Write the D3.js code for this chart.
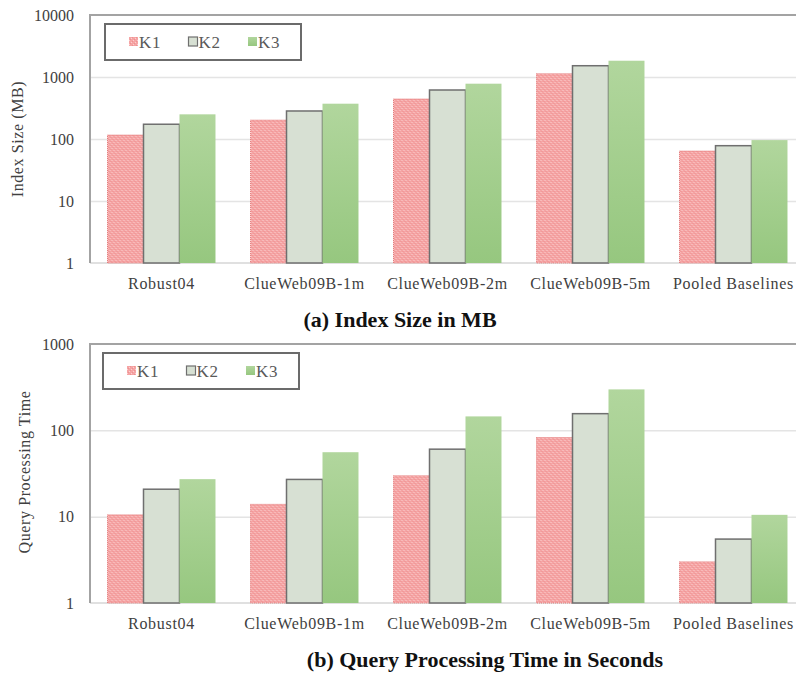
<!DOCTYPE html>
<html>
<head>
<meta charset="utf-8">
<script src="https://cdn.jsdelivr.net/npm/d3@7"></script>
<style>
  html, body { margin: 0; padding: 0; background: #ffffff; }
  svg { display: block; }
  text { font-family: "Liberation Serif", "Times New Roman", serif; }
</style>
</head>
<body>
<svg id="chart" width="796" height="677"></svg>
<script>
// Collections shown on the x axis of both panels
const categories = ["Robust04", "ClueWeb09B-1m", "ClueWeb09B-2m", "ClueWeb09B-5m", "Pooled Baselines"];
const seriesNames = ["K1", "K2", "K3"];

// (a) index size, MB
const indexK1 = [116, 202, 442, 1130, 64];
const indexK2 = [173, 283, 617, 1520, 78];
const indexK3 = [250, 371, 780, 1830, 96];
const indexTicks = [1, 10, 100, 1000, 10000];

// (b) query processing time, seconds
const timeK1 = [10.5, 13.9, 29.8, 82.6, 3.0];
const timeK2 = [20.8, 27, 60.5, 156, 5.5];
const timeK3 = [27.2, 55.8, 145, 298, 10.5];
const timeTicks = [1, 10, 100, 1000];

const svg = d3.select("#chart");
const defs = svg.append("defs");

// dotted pink fill for K1
const pat = defs.append("pattern")
  .attr("id", "k1dots").attr("patternUnits", "userSpaceOnUse")
  .attr("width", 4).attr("height", 4);
pat.append("rect").attr("width", 4).attr("height", 4).attr("fill", "#f5a4a4");
[[0, 0], [2, 2]].forEach(([x, y]) =>
  pat.append("rect").attr("x", x).attr("y", y).attr("width", 1).attr("height", 1).attr("fill", "#fbcfcf"));
[[1, 3], [3, 1]].forEach(([x, y]) =>
  pat.append("rect").attr("x", x).attr("y", y).attr("width", 1).attr("height", 1).attr("fill", "#ee9090"));

// soft vertical gradient for K3
const grad = defs.append("linearGradient").attr("id", "k3grad")
  .attr("x1", 0).attr("y1", 0).attr("x2", 0).attr("y2", 1);
grad.append("stop").attr("offset", "0%").attr("stop-color", "#b1d69d");
grad.append("stop").attr("offset", "100%").attr("stop-color", "#96c77f");

const seriesStyle = {
  K1: { fill: "url(#k1dots)", stroke: "#e37a7a", width: 1, dash: "1,1" },
  K2: { fill: "#d7e0d3", stroke: "#6f6f6f", width: 1.5, dash: null },
  K3: { fill: "url(#k3grad)", stroke: "none", width: 0, dash: null }
};

const left = 90, right = 805;

function drawPanel(cfg) {
  const g = svg.append("g");
  const rows = categories.map((c, i) => ({
    cat: c,
    vals: seriesNames.map((s, j) => ({ key: s, value: cfg.series[j][i] }))
  }));

  const x0 = d3.scaleBand().domain(categories).range([left, right])
    .paddingInner(0.245).paddingOuter(0.1225);
  const x1 = d3.scaleBand().domain(seriesNames).range([0, x0.bandwidth()]);
  const y = d3.scaleLog().domain([1, cfg.ticks[cfg.ticks.length - 1]]).range([cfg.bottom, cfg.top]);

  // horizontal gridlines
  g.append("g")
    .attr("transform", `translate(${left},0)`)
    .call(d3.axisLeft(y).tickValues(cfg.ticks.slice(1, -1)).tickSize(-(right - left)).tickFormat(""))
    .call(a => a.select(".domain").remove())
    .call(a => a.selectAll("line").attr("stroke", "#e4e4e4").attr("stroke-width", 1.5));

  // bottom axis line
  g.append("line").attr("x1", left).attr("x2", right)
    .attr("y1", y(1)).attr("y2", y(1))
    .attr("stroke", "#d6d6d6").attr("stroke-width", 1.5);

  // frame: top and left edges
  g.append("path")
    .attr("d", `M${left},${y(1)}V${cfg.top}H${right}`)
    .attr("fill", "none").attr("stroke", "#a3a3a3").attr("stroke-width", 2);

  // y tick labels
  g.append("g")
    .attr("transform", `translate(${left},0)`)
    .call(d3.axisLeft(y).tickValues(cfg.ticks).tickSize(0).tickPadding(16).tickFormat(d3.format("d")))
    .call(a => a.select(".domain").remove())
    .call(a => a.selectAll("text")
      .attr("font-family", "Liberation Serif, serif")
      .attr("font-size", 16).attr("fill", "#404040"));

  // bars
  const groups = g.append("g").selectAll("g").data(rows).join("g")
    .attr("transform", d => `translate(${x0(d.cat)},0)`);
  groups.selectAll("rect").data(d => d.vals).join("rect")
    .attr("x", d => x1(d.key))
    .attr("y", d => y(d.value))
    .attr("width", x1.bandwidth())
    .attr("height", d => y(1) - y(d.value))
    .attr("fill", d => seriesStyle[d.key].fill)
    .attr("stroke", d => seriesStyle[d.key].stroke)
    .attr("stroke-width", d => seriesStyle[d.key].width)
    .attr("stroke-dasharray", d => seriesStyle[d.key].dash);

  // category labels
  g.append("g")
    .attr("transform", `translate(0,${y(1)})`)
    .call(d3.axisBottom(x0).tickSize(0).tickPadding(15))
    .call(a => a.select(".domain").remove())
    .call(a => a.selectAll("text")
      .attr("font-family", "Liberation Serif, serif")
      .attr("font-size", 16).attr("fill", "#404040")
      .attr("letter-spacing", 0.7));

  // y axis title
  g.append("text")
    .attr("transform", `translate(${cfg.yTitleX},${cfg.yTitleY}) rotate(-90)`)
    .attr("text-anchor", "middle")
    .attr("font-size", 16).attr("fill", "#404040").attr("letter-spacing", 0.6)
    .text(cfg.yTitle);

  // legend
  const lg = g.append("g").attr("transform", `translate(${cfg.legendX},${cfg.legendY})`);
  lg.append("rect").attr("width", 196).attr("height", 36)
    .attr("fill", "#ffffff").attr("stroke", "#6b6b6b").attr("stroke-width", 2);
  const lx = d3.scalePoint().domain(seriesNames).range([24, 143]);
  const item = lg.selectAll("g.item").data(seriesNames).join("g")
    .attr("class", "item")
    .attr("transform", d => `translate(${lx(d)},0)`);
  item.append("rect")
    .attr("x", 0).attr("y", 13).attr("width", 9).attr("height", 9)
    .attr("fill", d => seriesStyle[d].fill)
    .attr("stroke", d => d === "K2" ? "#6f6f6f" : "none")
    .attr("stroke-width", 1.2);
  item.append("text")
    .attr("x", 10).attr("y", 24)
    .attr("font-size", 17).attr("fill", "#5a5a5a").attr("letter-spacing", 0.8)
    .text(d => d);

  // panel caption
  svg.append("text")
    .attr("x", cfg.captionX).attr("y", cfg.captionY)
    .attr("text-anchor", "middle")
    .attr("font-size", 22).attr("font-weight", "bold").attr("fill", "#111111")
    .text(cfg.caption);
}

drawPanel({
  series: [indexK1, indexK2, indexK3],
  ticks: indexTicks,
  top: 15, bottom: 263,
  yTitle: "Index Size (MB)", yTitleX: 23, yTitleY: 139,
  legendX: 105, legendY: 24,
  caption: "(a) Index Size in MB", captionX: 400, captionY: 327
});

drawPanel({
  series: [timeK1, timeK2, timeK3],
  ticks: timeTicks,
  top: 344, bottom: 603,
  yTitle: "Query Processing Time", yTitleX: 30, yTitleY: 472,
  legendX: 103, legendY: 353,
  caption: "(b) Query Processing Time in Seconds", captionX: 485, captionY: 667
});
</script>
</body>
</html>
